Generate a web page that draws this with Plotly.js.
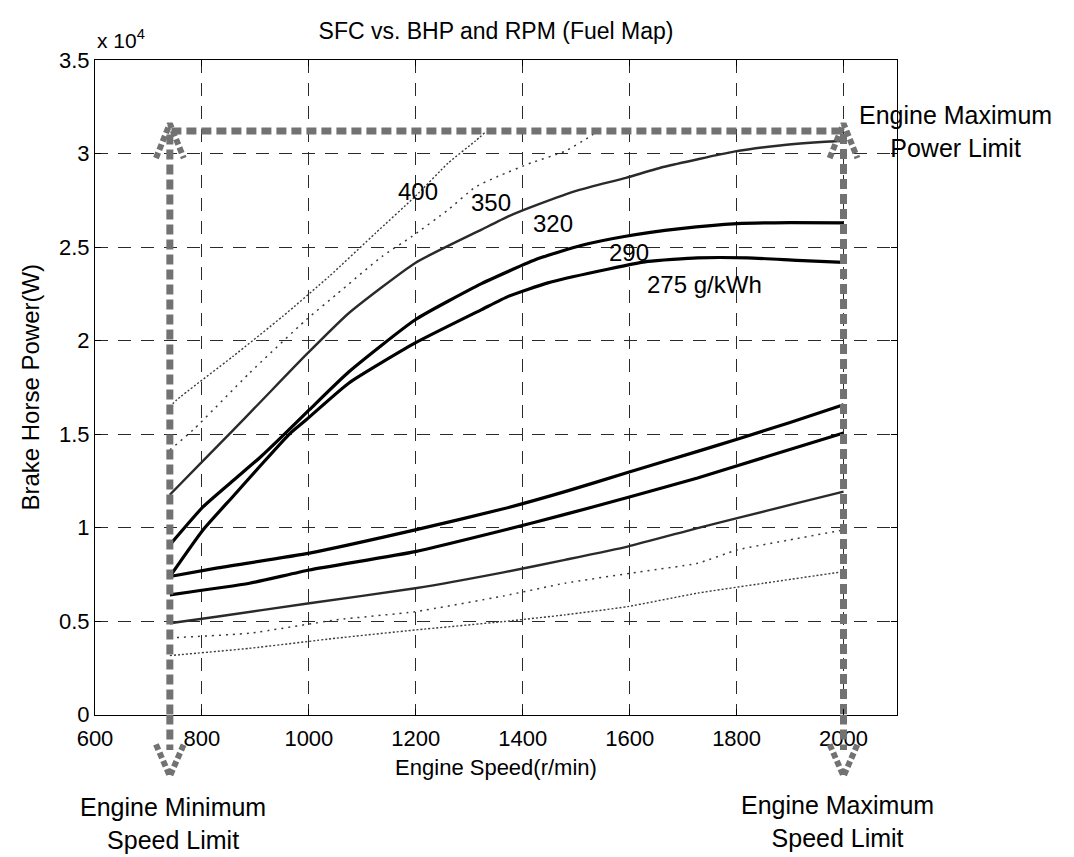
<!DOCTYPE html>
<html>
<head>
<meta charset="utf-8">
<script src="https://cdn.plot.ly/plotly-3.0.1.min.js"></script>
<style>
  html, body { margin: 0; padding: 0; background: #ffffff; }
  #chart { width: 1074px; height: 857px; }
</style>
</head>
<body>
<div id="chart"></div>
<script>
// ---------------- data ----------------
const xTickVals = [600, 800, 1000, 1200, 1400, 1600, 1800, 2000];
const xTickText = ['600', '800', '1000', '1200', '1400', '1600', '1800', '2000'];
const yTickVals = [0, 5000, 10000, 15000, 20000, 25000, 30000, 35000];
const yTickText = ['0', '0.5', '1', '1.5', '2', '2.5', '3', '3.5'];

// iso-SFC contours (engine speed r/min, brake horse power W)
const sfc400UpperRpm = [740, 753, 858, 951, 1038, 1125, 1199, 1261, 1311, 1330];
const sfc400UpperBhp = [16450, 16830, 19150, 21290, 23430, 25750, 27710, 29500, 30660, 31140];
const sfc350UpperRpm = [740, 784, 889, 995, 1051, 1137, 1193, 1261, 1311, 1354, 1416, 1479, 1522, 1540];
const sfc350UpperBhp = [14150, 15230, 18260, 21110, 22450, 24500, 25570, 27000, 28200, 28780, 29500, 30120, 30840, 31180];
const sfc320UpperRpm = [740, 796, 852, 908, 995, 1075, 1199, 1323, 1373, 1429, 1503, 1593, 1665, 1795, 1881, 1974, 2000];
const sfc320UpperBhp = [11750, 13390, 15020, 16670, 19240, 21470, 24150, 25930, 26640, 27280, 28030, 28700, 29290, 30100, 30430, 30640, 30680];
const sfc290UpperRpm = [740, 802, 858, 908, 951, 1001, 1075, 1199, 1323, 1429, 1509, 1590, 1695, 1801, 1900, 2000];
const sfc290UpperBhp = [9070, 11100, 12500, 13730, 14900, 16300, 18330, 21110, 23040, 24380, 25080, 25560, 25980, 26250, 26300, 26290];
const sfc275UpperRpm = [740, 802, 858, 908, 964, 995, 1075, 1199, 1323, 1373, 1447, 1541, 1634, 1727, 1820, 1913, 2000];
const sfc275UpperBhp = [7380, 9870, 11660, 13260, 15010, 15760, 17730, 19870, 21650, 22360, 23080, 23700, 24230, 24420, 24420, 24290, 24180];

const sfc275LowerRpm = [740, 827, 1001, 1199, 1364, 1479, 1593, 1727, 1801, 1900, 2000];
const sfc275LowerBhp = [7380, 7830, 8630, 9870, 11000, 11920, 12910, 14070, 14720, 15620, 16560];
const sfc290LowerRpm = [740, 889, 1001, 1199, 1364, 1479, 1596, 1727, 1863, 2000];
const sfc290LowerBhp = [6400, 7020, 7730, 8710, 9850, 10700, 11600, 12650, 13850, 15050];
const sfc320LowerRpm = [740, 827, 1001, 1199, 1364, 1479, 1596, 1727, 1801, 1913, 2000];
const sfc320LowerBhp = [4880, 5230, 5950, 6750, 7600, 8270, 8980, 9970, 10500, 11300, 11920];
const sfc350LowerRpm = [740, 889, 1051, 1199, 1364, 1479, 1602, 1727, 1801, 1900, 2000];
const sfc350LowerBhp = [4100, 4350, 5060, 5500, 6340, 7020, 7560, 8090, 8800, 9340, 9870];
const sfc400LowerRpm = [740, 889, 1051, 1199, 1364, 1479, 1596, 1727, 1851, 2000];
const sfc400LowerBhp = [3150, 3540, 4080, 4520, 4970, 5330, 5770, 6490, 7020, 7640];

// contour labels
const labelText = ['400', '350', '320', '290', '275 g/kWh'];
const labelRpm = [1204, 1340, 1457, 1599, 1740];
const labelBhp = [27980, 27400, 26240, 24730, 22990];

// operating limits
const limitRpm = [740, 740, 2000, 2000];
const limitBhp = [0, 31200, 31200, 0];
const upArrowLeftRpm = [714, 740, 766];
const upArrowRightRpm = [1974, 2000, 2026];
const upArrowBhp = [29750, 31600, 29750];
const belowLeftRpm = [740, 740];
const belowRightRpm = [2000, 2000];
const belowBhp = [0, -1900];
const downArrowLeftRpm = [714, 740, 766];
const downArrowRightRpm = [1974, 2000, 2026];
const downArrowBhp = [-1600, -3300, -1600];

// ---------------- layout geometry ----------------
const W = 1074, H = 857;
const L = 95, R = 177, T = 60;
const mainBottomPx = 714.5, allBottomPx = 782;
const B = H - allBottomPx;
const plotW = W - L - R;
const plotH = allBottomPx - T;
const lowerFrac = (allBottomPx - mainBottomPx) / plotH;
const yMax = 35000;
const y2Min = -yMax * (allBottomPx - mainBottomPx) / (mainBottomPx - T);
const px2paper = px => (px - L) / plotW;
const py2paper = py => (allBottomPx - py) / plotH;

const FONT = 'Liberation Sans, Arial, Helvetica, sans-serif';

const thick = {color: '#000000', width: 3.2, shape: 'spline', smoothing: 0.5};
const beaded = {color: '#2a2a2a', width: 2.4, shape: 'spline', smoothing: 0.5};
const thin400 = {color: '#3a3a3a', width: 1.4, dash: '2px,2px', shape: 'spline', smoothing: 0.5};
const thin350 = {color: '#3a3a3a', width: 1.5, dash: '2px,5px', shape: 'spline', smoothing: 0.5};
const limitLine = {color: '#727272', width: 7, dash: '10px,5px'};
const arrowLine = {color: '#727272', width: 6, dash: '6px,3px'};

function curve(x, y, line) {
  return {type: 'scatter', mode: 'lines', x: x, y: y, line: line, xaxis: 'x', yaxis: 'y', hoverinfo: 'skip', showlegend: false};
}
function lower(x, y, line) {
  return {type: 'scatter', mode: 'lines', x: x, y: y, line: line, xaxis: 'x2', yaxis: 'y2', hoverinfo: 'skip', showlegend: false};
}

const traces = [
  curve(sfc400UpperRpm, sfc400UpperBhp, thin400),
  curve(sfc350UpperRpm, sfc350UpperBhp, thin350),
  curve(sfc320UpperRpm, sfc320UpperBhp, beaded),
  curve(sfc290UpperRpm, sfc290UpperBhp, thick),
  curve(sfc275UpperRpm, sfc275UpperBhp, thick),
  curve(sfc275LowerRpm, sfc275LowerBhp, thick),
  curve(sfc290LowerRpm, sfc290LowerBhp, thick),
  curve(sfc320LowerRpm, sfc320LowerBhp, beaded),
  curve(sfc350LowerRpm, sfc350LowerBhp, thin350),
  curve(sfc400LowerRpm, sfc400LowerBhp, thin400),
  curve(limitRpm, limitBhp, limitLine),
  curve(upArrowLeftRpm, upArrowBhp, arrowLine),
  curve(upArrowRightRpm, upArrowBhp, arrowLine),
  lower(belowLeftRpm, belowBhp, limitLine),
  lower(belowRightRpm, belowBhp, limitLine),
  lower(downArrowLeftRpm, downArrowBhp, arrowLine),
  lower(downArrowRightRpm, downArrowBhp, arrowLine)
];

const annotations = labelText.map((t, i) => ({
  text: t, x: labelRpm[i], y: labelBhp[i], xref: 'x', yref: 'y',
  showarrow: false, xanchor: 'center', yanchor: 'middle',
  font: {family: FONT, size: 24, color: '#000'}
}));
annotations.push(
  {text: 'x 10<sup>4</sup>', xref: 'paper', yref: 'paper', x: px2paper(95), y: py2paper(39),
   xanchor: 'left', yanchor: 'middle', showarrow: false, font: {family: FONT, size: 21, color: '#000'}},
  {text: 'Engine Maximum<br>Power Limit', xref: 'paper', yref: 'paper', x: px2paper(955), y: py2paper(131.5),
   xanchor: 'center', yanchor: 'middle', showarrow: false, font: {family: FONT, size: 25, color: '#000'}},
  {text: 'Engine Minimum<br>Speed Limit', xref: 'paper', yref: 'paper', x: px2paper(173), y: py2paper(823),
   xanchor: 'center', yanchor: 'middle', showarrow: false, font: {family: FONT, size: 25, color: '#000'}},
  {text: 'Engine Maximum<br>Speed Limit', xref: 'paper', yref: 'paper', x: px2paper(837), y: py2paper(821),
   xanchor: 'center', yanchor: 'middle', showarrow: false, font: {family: FONT, size: 25, color: '#000'}}
);

const layout = {
  width: W, height: H,
  margin: {l: L, r: R, t: T, b: B, pad: 0},
  paper_bgcolor: '#ffffff', plot_bgcolor: '#ffffff',
  showlegend: false, hovermode: false,
  font: {family: FONT, size: 22, color: '#000'},
  title: {text: 'SFC vs. BHP and RPM (Fuel Map)', x: 0.5, xref: 'paper', xanchor: 'center',
          y: 1 - 31 / H, yref: 'container', yanchor: 'middle',
          font: {family: FONT, size: 23, color: '#000'}},
  xaxis: {
    domain: [0, 1], anchor: 'y', range: [600, 2100],
    tickmode: 'array', tickvals: xTickVals, ticktext: xTickText,
    ticks: 'inside', ticklen: 6, tickcolor: '#000', tickwidth: 1,
    showline: true, linecolor: '#000', linewidth: 1, mirror: 'ticks',
    showgrid: true, gridcolor: '#2a2a2a', gridwidth: 1, griddash: '13px,10px',
    zeroline: false, ticklabelstandoff: 4,
    tickfont: {family: FONT, size: 22, color: '#000'},
    title: {text: 'Engine Speed(r/min)', standoff: 9, font: {family: FONT, size: 22, color: '#000'}}
  },
  yaxis: {
    domain: [lowerFrac, 1], anchor: 'x', range: [0, yMax],
    tickmode: 'array', tickvals: yTickVals, ticktext: yTickText,
    ticks: 'inside', ticklen: 6, tickcolor: '#000', tickwidth: 1,
    showline: true, linecolor: '#000', linewidth: 1, mirror: 'ticks',
    showgrid: true, gridcolor: '#2a2a2a', gridwidth: 1, griddash: '13px,10px',
    zeroline: false, ticklabelstandoff: 0,
    tickfont: {family: FONT, size: 22, color: '#000'},
    title: {text: 'Brake Horse Power(W)', standoff: 12, font: {family: FONT, size: 24, color: '#000'}}
  },
  xaxis2: {domain: [0, 1], anchor: 'y2', range: [600, 2100], visible: false, fixedrange: true},
  yaxis2: {domain: [0, lowerFrac], anchor: 'x2', range: [y2Min, 0], visible: false, fixedrange: true},
  annotations: annotations
};

Plotly.newPlot('chart', traces, layout, {displayModeBar: false, staticPlot: true});
</script>
</body>
</html>
